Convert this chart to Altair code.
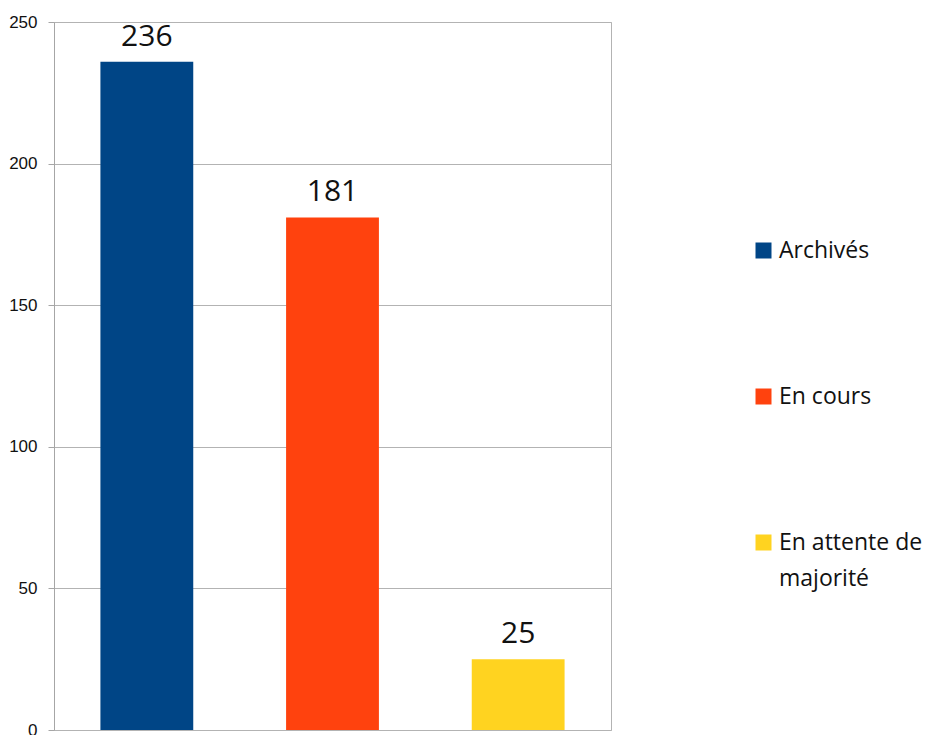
import altair as alt
import pandas as pd

categories = ["Archivés", "En cours", "En attente de majorité"]
values = [236, 181, 25]
colors = ["#004586", "#ff420e", "#ffd320"]
y_ticks = [0, 50, 100, 150, 200, 250]

df = pd.DataFrame({"statut": categories, "nombre": values})

label_expr = (
    "datum.label == 'En attente de majorité' ? ['En attente de', 'majorité'] "
    ": datum.label"
)

base = alt.Chart(df).encode(
    x=alt.X(
        "statut:N",
        sort=categories,
        axis=None,
        scale=alt.Scale(paddingInner=0.5, paddingOuter=0.25),
    ),
    y=alt.Y(
        "nombre:Q",
        scale=alt.Scale(domain=[0, 250], nice=False),
        axis=alt.Axis(
            values=y_ticks,
            title=None,
            grid=True,
            gridColor="#b3b3b3",
            domainColor="#a6a6a6",
            tickColor="#a6a6a6",
            tickSize=6,
            labelFont="Liberation Sans",
            labelFontSize=17,
            labelColor="#111111",
            labelPadding=11,
            labelFlush=False,
        ),
    ),
)

bars = base.mark_bar().encode(
    color=alt.Color(
        "statut:N",
        sort=categories,
        scale=alt.Scale(domain=categories, range=colors),
        legend=alt.Legend(
            title=None,
            orient="none",
            legendX=698,
            legendY=217,
            padding=0,
            symbolType="square",
            symbolSize=256,
            symbolStrokeWidth=0,
            symbolOpacity=1,
            labelFont="Open Sans",
            labelFontSize=23,
            labelColor="#111111",
            labelOffset=4,
            labelLimit=400,
            labelExpr=label_expr,
            rowPadding=122,
        ),
    )
)

labels = base.mark_text(
    baseline="alphabetic", dy=-16, fontSize=30, font="Open Sans", color="#111111"
).encode(text="nombre:Q")

chart = (
    alt.layer(bars, labels)
    .properties(
        width=557,
        height=708,
        autosize=alt.AutoSizeParams(type="none"),
        padding={"left": 46, "top": 14, "right": 320, "bottom": 10},
    )
    .configure(style={"guide-label": {"lineHeight": 36}})
    .configure_view(stroke="#b3b3b3")
)

chart.save("out.html", embed_options={"renderer": "svg", "actions": False})
